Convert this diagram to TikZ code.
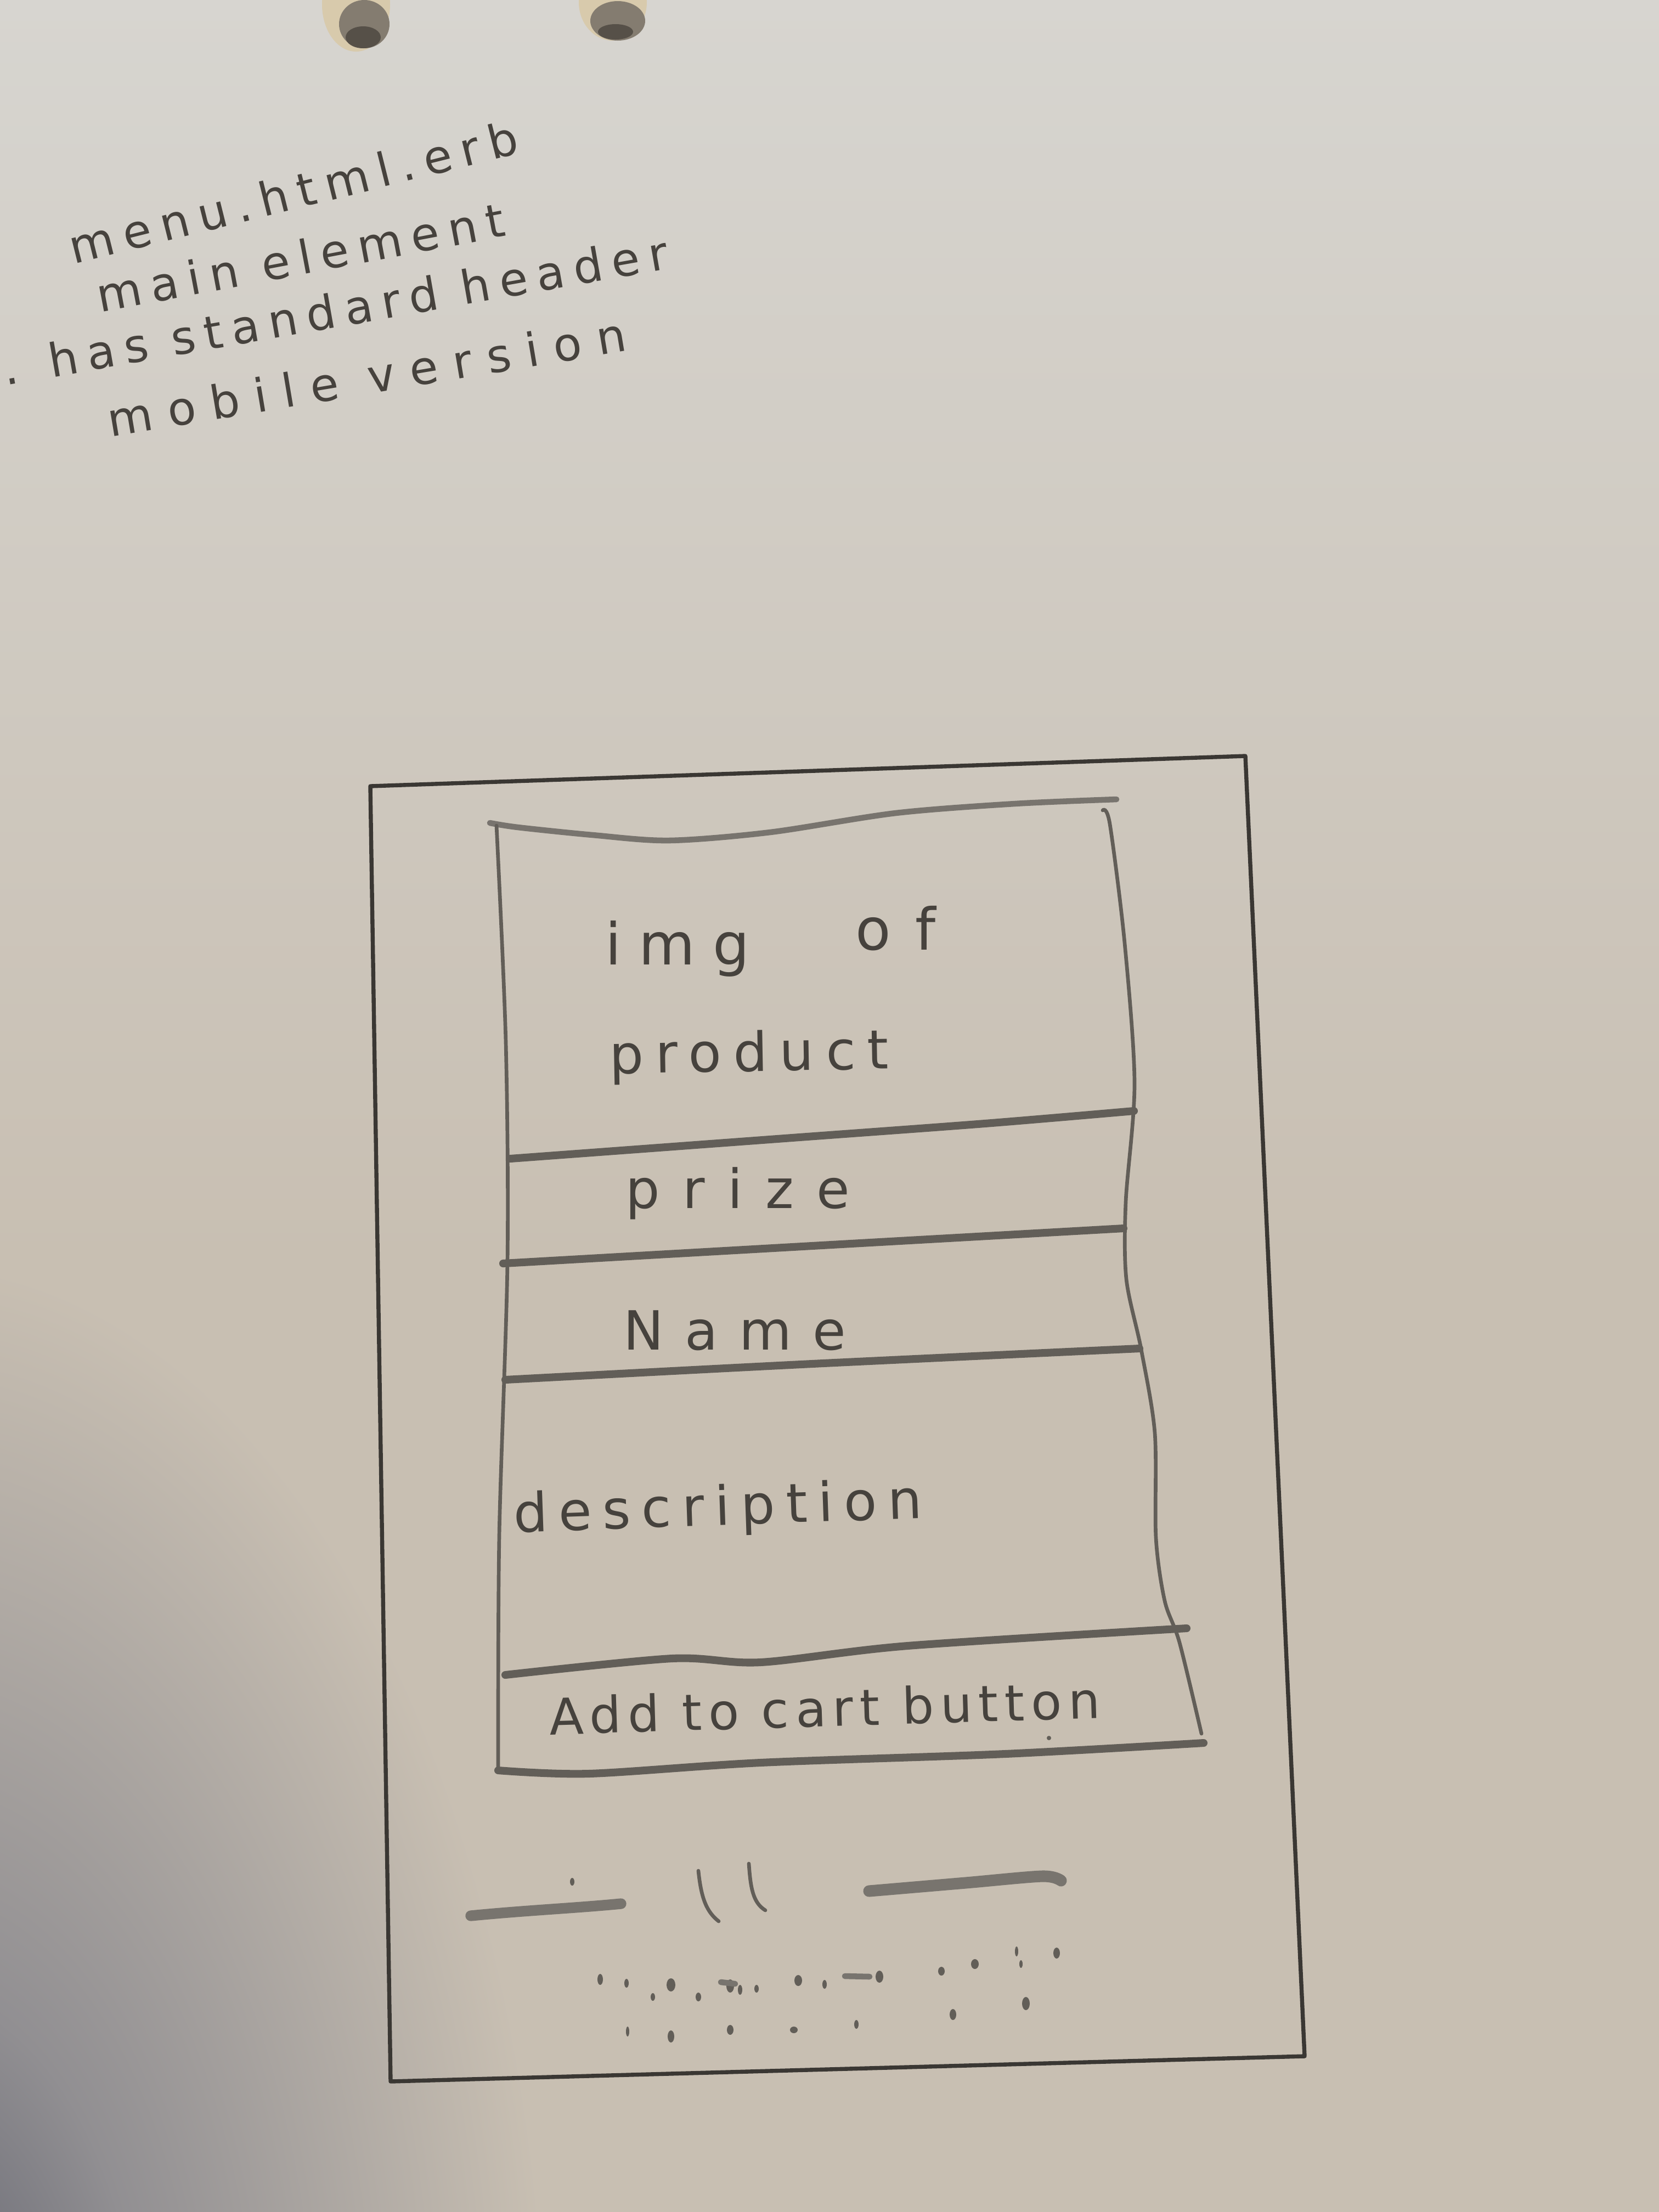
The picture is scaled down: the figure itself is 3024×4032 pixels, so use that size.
\documentclass[tikz,border=0pt]{standalone}
\usepackage{fontspec}
\newfontfamily\hand[LetterSpace=20]{DejaVu Sans}
\definecolor{papertop}{RGB}{215,213,208}
\definecolor{paperbot}{RGB}{200,191,178}
\definecolor{shadowc}{RGB}{92,94,106}
\definecolor{shadowmid}{RGB}{145,143,146}
\definecolor{ink}{RGB}{58,55,51}
\definecolor{pencil}{RGB}{98,94,88}
\definecolor{softpencil}{RGB}{120,116,110}
\definecolor{hwink}{RGB}{70,66,61}
\definecolor{holetan}{RGB}{216,202,172}
\definecolor{holedark}{RGB}{132,124,112}
\definecolor{holecore}{RGB}{86,80,72}
% TikZ fits the central 50bp square of a shading to the path, so the
% gradient ends at 25bp
\pgfdeclareradialshading{cornershadow}{\pgfpointorigin}{%
  color(0bp)=(shadowc); color(9bp)=(shadowmid); color(25bp)=(paperbot); color(50bp)=(paperbot)}

\begin{document}
\begin{tikzpicture}[x=0.01cm,y=-0.01cm,
  boxline/.style={draw=ink, line width=2.1pt, line cap=round, line join=round},
  cardedge/.style={draw=pencil, line width=1.9pt, line cap=round},
  divider/.style={draw=pencil, line width=4pt, line cap=round},
  hw/.style={text=hwink, inner sep=0pt, anchor=base west,
    font={\hand\fontsize{#1pt}{#1pt}\selectfont}},
  hw/.default=24,
]
\useasboundingbox (0,0) rectangle (3024,4032);

% paper with a soft shadow in the lower left corner
\begin{scope}
  \clip (0,0) rectangle (3024,4032);
  \fill[paperbot] (0,0) rectangle (3024,4032);
  \shade[top color=papertop, bottom color=paperbot] (0,0) rectangle (3024,2300);
  \shade[shading=cornershadow] (-150,4380) ellipse [x radius=1150, y radius=2080];
  % punched holes at the top edge
  \fill[holetan] (649,8) ellipse (62 and 86);
  \fill[holedark] (664,44) ellipse (46 and 44);
  \fill[holecore] (662,68) ellipse (32 and 20);
  \fill[holetan] (1117,4) ellipse (62 and 70);
  \fill[holedark] (1126,38) ellipse (50 and 36);
  \fill[holecore] (1122,58) ellipse (32 and 14);
\end{scope}

% header notes
\node[hw] (fname) at (134,482) [rotate=14] {\addfontfeatures{LetterSpace=21}menu.html.erb};
\node[hw] (mainel) at (182,570) [rotate=10.7] {main element};
\node[hw] (stdhdr) at (10,703) [rotate=10] {. has standard header};
\node[hw] (mobile) at (201,797) [rotate=9.5] {\addfontfeatures{LetterSpace=33}mobile version};

% phone frame
\draw[boxline] (675,1433) -- (2270,1378) -- (2378,3748) -- (712,3794) -- cycle;

% product card outline
\draw[cardedge, draw=softpencil, line width=3pt]
  plot[smooth] coordinates {(893,1500) (944,1508) (1080,1522) (1220,1532) (1404,1517) (1633,1482) (1850,1465) (2035,1457)};
\draw[cardedge] plot[smooth] coordinates {(905,1505) (922,1900) (925,2300) (910,2800) (908,3228)};
\draw[cardedge] plot[smooth] coordinates {(2010,1477) (2023,1502) (2050,1719) (2068,1974) (2052,2191) (2053,2331) (2080,2459) (2105,2612) (2107,2803) (2123,2918) (2150,2994) (2190,3160)};

% section dividers
\draw[divider] plot[smooth] coordinates {(930,2112) (1430,2075) (1795,2048) (2067,2025)};
\draw[divider] plot[smooth] coordinates {(917,2303) (1480,2271) (2048,2239)};
\draw[divider] plot[smooth] coordinates {(921,2515) (1480,2486) (2077,2458)};
\draw[divider] plot[smooth] coordinates {(921,3053) (1225,3023) (1386,3030) (1654,3000) (2163,2968)};
\draw[divider] plot[smooth] coordinates {(908,3227) (1073,3233) (1386,3213) (1832,3197) (2194,3177)};

% section labels
\node[hw=30] (img) at (1103,1758) {\addfontfeatures{LetterSpace=30}img};
\node[hw=30] (of) at (1559,1731) {\addfontfeatures{LetterSpace=42}of};
\node[hw=28] (product) at (1111,1957) [rotate=1] {\addfontfeatures{LetterSpace=22}product};
\node[hw=28] (prize) at (1140,2202) {\addfontfeatures{LetterSpace=42}prize};
\node[hw=28] (name) at (1136,2460) {\addfontfeatures{LetterSpace=39}Name};
\node[hw=28] (desc) at (937,2793) [rotate=2] {\addfontfeatures{LetterSpace=20}description};
\node[hw=26] (cart) at (1002,3162) [rotate=1.7] {\addfontfeatures{LetterSpace=13}Add to cart button};
\fill[pencil] (1912,3168) circle (4);

% pager strokes below the card
\draw[draw=softpencil, line width=5.5pt, line cap=round] (858,3492) .. controls (960,3482) and (1050,3478) .. (1132,3470);
\draw[draw=softpencil, line width=6pt, line cap=round] plot[smooth] coordinates {(1584,3447) (1760,3432) (1900,3420) (1934,3428)};
\draw[cardedge] (1273,3410) .. controls (1278,3460) and (1288,3485) .. (1310,3502);
\draw[cardedge] (1365,3397) .. controls (1368,3440) and (1372,3468) .. (1395,3482);
\fill[pencil] (1043,3430) ellipse (4 and 7);

% scattered dots
\foreach \px/\py/\rx/\ry in {
  1094/3608/5/10, 1142/3615/4/8, 1223/3618/8/12, 1190/3640/4/7, 1273/3640/5/8,
  1331/3620/7/12, 1349/3627/4/9, 1379/3625/4/7, 1455/3610/7/10, 1503/3617/4/8,
  1603/3603/7/11, 1716/3593/6/8, 1777/3580/7/9, 1853/3557/3/9, 1926/3560/6/10,
  1861/3580/3/7, 1870/3652/7/12, 1737/3672/6/10,
  1144/3703/3/9, 1223/3712/6/11, 1331/3700/6/9, 1447/3700/7/6, 1561/3690/4/8}
  \fill[pencil] (\px,\py) ellipse [x radius=\rx, y radius=\ry];
\draw[draw=softpencil, line width=3pt, line cap=round] (1540,3602) -- (1585,3603);
\draw[draw=softpencil, line width=3pt, line cap=round] (1314,3613) -- (1340,3616);
\end{tikzpicture}
\end{document}
